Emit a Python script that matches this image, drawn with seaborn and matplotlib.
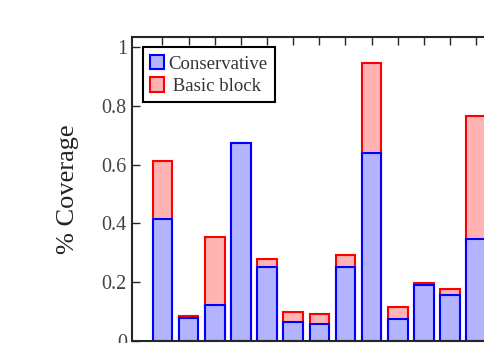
import numpy as np
import pandas as pd
import matplotlib
matplotlib.use('Agg')
import matplotlib.pyplot as plt
import seaborn as sns
from matplotlib.patches import Patch

# coverage per benchmark
benchmarks = [f"b{i}" for i in range(1, 14)]
conservative = [0.415, 0.079, 0.122, 0.673, 0.251, 0.066, 0.059, 0.251, 0.638, 0.073, 0.190, 0.155, 0.347]
basic_block = [0.612, 0.086, 0.353, 0.673, 0.278, 0.100, 0.093, 0.291, 0.947, 0.116, 0.196, 0.177, 0.767]

df = pd.DataFrame({'bench': benchmarks, 'cons': conservative, 'bb': basic_block})

sns.set_style('ticks')
plt.rcParams['font.family'] = ['Liberation Serif', 'DejaVu Serif']
plt.rcParams['axes.linewidth'] = 1.5

fig = plt.figure(figsize=(4.85, 3.43), dpi=100)
ax = fig.add_axes([0.273, 0.006, 0.76, 0.886])

# red (basic block) behind, blue (conservative) on top
sns.barplot(data=df, x='bench', y='bb', color=(1, 0.7, 0.7), edgecolor='red',
            linewidth=1.5, width=0.75, saturation=1, ax=ax)
sns.barplot(data=df, x='bench', y='cons', color=(0.7, 0.7, 1), edgecolor='blue',
            linewidth=1.5, width=0.75, saturation=1, ax=ax)

ax.set_xlim(-1.15, 12.95)
ax.set_ylim(0, 1.034)
ax.set_yticks([0, 0.2, 0.4, 0.6, 0.8, 1])
ax.set_yticklabels(['0', '0.2', '0.4', '0.6', '0.8', '1'])
ax.set_xlabel('')
ax.set_xticklabels([])
ax.tick_params(axis='both', direction='in', top=True, right=True, length=6, width=1,
               labelsize=14.5, labelcolor='#444444', pad=4)
ax.set_ylabel('% Coverage', fontsize=19, labelpad=16, color='#222222')

handles = [Patch(facecolor=(0.7, 0.7, 1), edgecolor='blue', linewidth=1.5, label='Conservative'),
           Patch(facecolor=(1, 0.7, 0.7), edgecolor='red', linewidth=1.5, label=' Basic block')]
leg = ax.legend(handles=handles, loc='upper left', fontsize=13.5, fancybox=False, framealpha=1,
                edgecolor='black', handlelength=0.75, handleheight=0.8, handletextpad=0.2,
                borderpad=0.4, labelspacing=0.25, borderaxespad=0.55)
leg.get_frame().set_linewidth(1.5)
for t in leg.get_texts():
    t.set_color('#333333')

fig.savefig('out.png', dpi=100)
